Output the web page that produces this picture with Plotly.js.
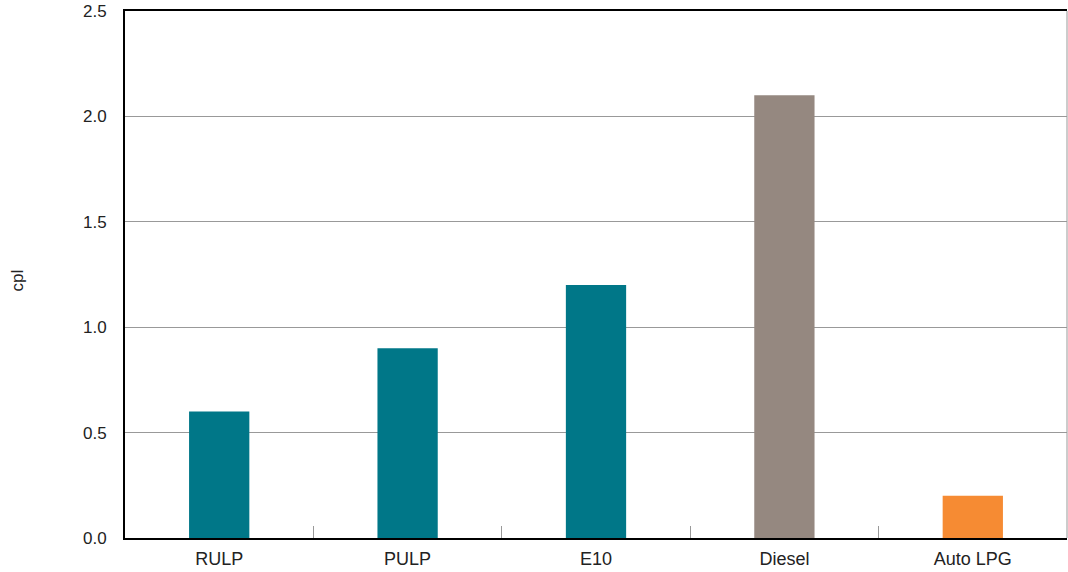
<!DOCTYPE html>
<html>
<head>
<meta charset="utf-8">
<script src="https://cdn.plot.ly/plotly-3.0.1.min.js"></script>
<style>html,body{margin:0;padding:0;background:#fff;}#chart{width:1068px;height:572px;}</style>
</head>
<body>
<div id="chart"></div>
<script>
const categories = ["RULP", "PULP", "E10", "Diesel", "Auto LPG"];
const values = [0.6, 0.9, 1.2, 2.1, 0.2];
const barColors = ["#007788", "#007788", "#007788", "#958880", "#F68B33"];
const yTickVals = [0, 0.5, 1.0, 1.5, 2.0, 2.5];
const yTickText = ["0.0", "0.5", "1.0", "1.5", "2.0", "2.5"];
const yTitle = "cpl";

const trace = {
  type: "bar",
  x: categories,
  y: values,
  marker: {color: barColors, line: {width: 0}},
  hoverinfo: "x+y"
};

const layout = {
  width: 1068, height: 572,
  margin: {l: 125, r: 1, t: 11, b: 34},
  paper_bgcolor: "#fff", plot_bgcolor: "#fff",
  font: {family: "Liberation Sans, Arial, sans-serif", size: 17, color: "#222"},
  bargap: 0.68,
  showlegend: false,
  xaxis: {
    type: "category",
    showline: true, linecolor: "#000", linewidth: 2, mirror: true,
    ticks: "inside", tickson: "boundaries", ticklen: 12, tickcolor: "#999", tickwidth: 1,
    showgrid: false, zeroline: false, ticklabelstandoff: 3,
    tickfont: {size: 18, color: "#222"}
  },
  yaxis: {
    range: [0, 2.5],
    tickvals: yTickVals, ticktext: yTickText,
    showline: true, linecolor: "#000", linewidth: 2,
    showgrid: true, gridcolor: "#999", gridwidth: 1,
    zeroline: false, ticks: "", ticklabelstandoff: 13,
    tickfont: {size: 17, color: "#222"}
  },
  shapes: [{
    type: "line", xref: "paper", yref: "paper", x0: 1, x1: 1, y0: 0, y1: 1,
    line: {color: "#999", width: 1}
  }],
  annotations: [{
    text: yTitle, xref: "paper", yref: "paper", x: 0, y: 0.5,
    xanchor: "center", yanchor: "middle", xshift: -108, yshift: -6, textangle: -90,
    showarrow: false, font: {size: 17, color: "#222"}
  }]
};

Plotly.newPlot("chart", [trace], layout, {displayModeBar: false, staticPlot: true});
</script>
</body>
</html>
